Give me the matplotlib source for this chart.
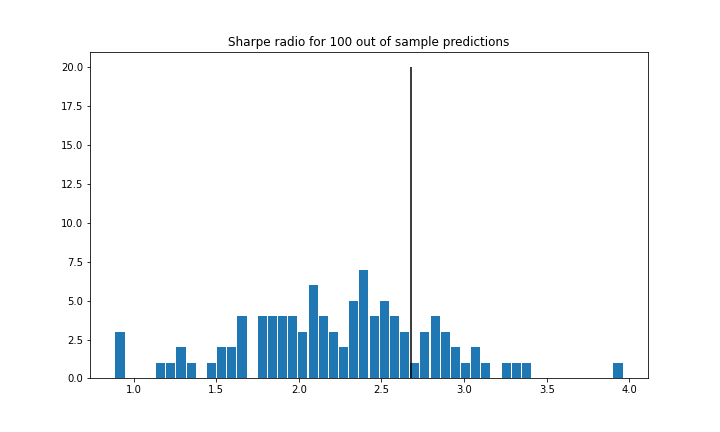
import matplotlib
matplotlib.use('Agg')
import matplotlib.pyplot as plt
import numpy as np

# histogram of sharpe ratios (50 bins), counts
sharpe_min = 0.887
sharpe_max = 3.962
counts = [3, 0, 0, 0, 1, 1, 2, 1, 0, 1,
          2, 2, 4, 0, 4, 4, 4, 4, 3, 6,
          4, 3, 2, 5, 7, 4, 5, 4, 3, 1,
          3, 4, 3, 2, 1, 2, 1, 0, 1, 1,
          1, 0, 0, 0, 0, 0, 0, 0, 0, 1]
actual_sharpe = 2.68
line_top = 20

edges = np.linspace(sharpe_min, sharpe_max, len(counts) + 1)
centers = (edges[:-1] + edges[1:]) / 2

fig = plt.figure(figsize=(10, 6), dpi=72)
plt.subplots_adjust(bottom=0.124)
plt.hist(centers, bins=edges, weights=counts, rwidth=0.9)
plt.vlines(actual_sharpe, 0, line_top, colors='black')
plt.title('Sharpe radio for 100 out of sample predictions')

fig.savefig('out.png', dpi=72)
